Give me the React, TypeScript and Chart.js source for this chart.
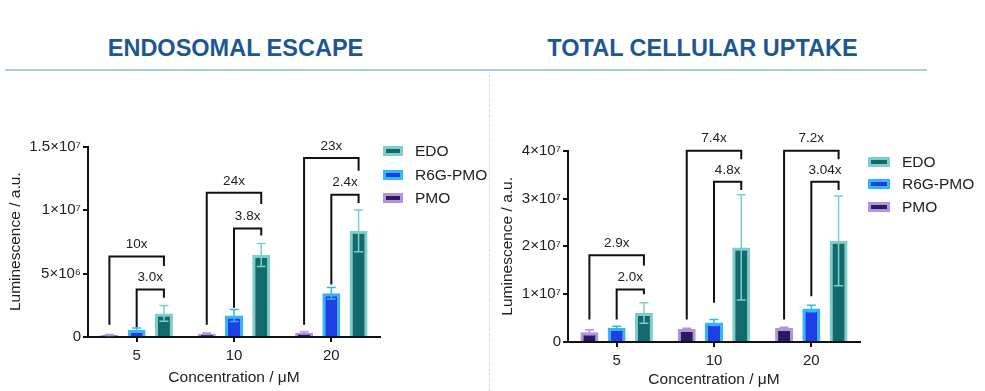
import React, { useEffect, useRef } from "react";
import { Chart, registerables } from "chart.js";

Chart.register(...registerables);

const FONT = "'Liberation Sans', Arial, Helvetica, sans-serif";
Chart.defaults.font.family = FONT;

// ---------- shared ----------
const concentrations = ["5", "10", "20"];
const seriesNames = ["PMO", "R6G-PMO", "EDO"];
const fillColors = ["#2b1a5c", "#1c3fe6", "#136a6d"];
const edgeColors = ["#b393dd", "#35b6f5", "#7fcdcd"];
const legendOrder = [2, 1, 0];

// ---------- endosomal escape ----------
const escapePMO = [1.5e5, 2.5e5, 3.3e5];
const escapePMOErr = [0.4e5, 0.6e5, 0.8e5];
const escapeR6G = [5.8e5, 1.69e6, 3.45e6];
const escapeR6GErr = [1.2e5, 4.7e5, 4.5e5];
const escapeEDO = [1.86e6, 6.46e6, 8.36e6];
const escapeEDOErr = [6.2e5, 9.0e5, 1.64e6];
const escapeTickLabels = ["0", "5×10⁶", "1×10⁷", "1.5×10⁷"];
const escapeNearLabels = ["3.0x", "3.8x", "2.4x"];
const escapeNearTop = [3.75e6, 8.55e6, 1.12e7];
const escapeNearLeftEnd = [7.6e5, 2.3e6, 4.14e6];
const escapeNearRightEnd = [3.1e6, 8.0e6, 1.055e7];
const escapeFarLabels = ["10x", "24x", "23x"];
const escapeFarTop = [6.33e6, 1.135e7, 1.41e7];
const escapeFarLeftEnd = [9.7e5, 9.7e5, 9.7e5];
const escapeFarRightEnd = [5.6e6, 1.048e7, 1.31e7];

// ---------- total cellular uptake ----------
const uptakePMO = [2.05e6, 2.7e6, 2.95e6];
const uptakePMOErr = [5e5, 2e5, 1.5e5];
const uptakeR6G = [3.0e6, 4.06e6, 7.0e6];
const uptakeR6GErr = [3e5, 6.3e5, 7e5];
const uptakeEDO = [6.07e6, 1.977e7, 2.115e7];
const uptakeEDOErr = [2.15e6, 1.1e7, 9.4e6];
const uptakeTickLabels = ["0", "1×10⁷", "2×10⁷", "3×10⁷", "4×10⁷"];
const uptakeNearLabels = ["2.0x", "4.8x", "3.04x"];
const uptakeNearTop = [1.097e7, 3.35e7, 3.35e7];
const uptakeNearLeftEnd = [4.69e6, 8.2e6, 9.57e6];
const uptakeNearRightEnd = [1.0e7, 3.18e7, 3.18e7];
const uptakeFarLabels = ["2.9x", "7.4x", "7.2x"];
const uptakeFarTop = [1.816e7, 4.0e7, 4.0e7];
const uptakeFarLeftEnd = [4.69e6, 4.69e6, 4.69e6];
const uptakeFarRightEnd = [1.6e7, 3.82e7, 3.82e7];

type Bracket = {
  from: number;
  to: number;
  labels: string[];
  tops: number[];
  leftEnds: number[];
  rightEnds: number[];
};

function makeErrorBarPlugin(errs: number[][]) {
  return {
    id: "errorBars",
    afterDatasetsDraw(chart: any) {
      const ctx = chart.ctx;
      const y = chart.scales.y;
      chart.data.datasets.forEach((ds: any, i: number) => {
        const meta = chart.getDatasetMeta(i);
        meta.data.forEach((bar: any, j: number) => {
          const v = ds.data[j];
          const e = errs[i][j];
          const yHi = y.getPixelForValue(v + e);
          const yLo = y.getPixelForValue(Math.max(0, v - e));
          const x = bar.x;
          const half = 4.5;
          ctx.save();
          ctx.strokeStyle = ds.borderColor;
          ctx.lineWidth = 1.5;
          ctx.beginPath();
          ctx.moveTo(x, yLo);
          ctx.lineTo(x, yHi);
          ctx.moveTo(x - half, yHi);
          ctx.lineTo(x + half, yHi);
          ctx.moveTo(x - half, yLo);
          ctx.lineTo(x + half, yLo);
          ctx.stroke();
          ctx.restore();
        });
      });
    },
  };
}

function makeBracketPlugin(groups: Bracket[]) {
  return {
    id: "brackets",
    afterDatasetsDraw(chart: any) {
      const ctx = chart.ctx;
      const y = chart.scales.y;
      groups.forEach((g) => {
        g.labels.forEach((lab, j) => {
          const xL = chart.getDatasetMeta(g.from).data[j].x;
          const xR = chart.getDatasetMeta(g.to).data[j].x;
          const yT = y.getPixelForValue(g.tops[j]);
          const yL = y.getPixelForValue(g.leftEnds[j]);
          const yR = y.getPixelForValue(g.rightEnds[j]);
          ctx.save();
          ctx.strokeStyle = "#111";
          ctx.lineWidth = 2;
          ctx.lineJoin = "miter";
          ctx.beginPath();
          ctx.moveTo(xL, yL);
          ctx.lineTo(xL, yT);
          ctx.lineTo(xR, yT);
          ctx.lineTo(xR, yR);
          ctx.stroke();
          ctx.fillStyle = "#222";
          ctx.font = `13.5px ${FONT}`;
          ctx.textAlign = "center";
          ctx.textBaseline = "middle";
          ctx.fillText(lab, (xL + xR) / 2, yT - 12);
          ctx.restore();
        });
      });
    },
  };
}

type PanelProps = {
  left: number;
  top: number;
  width: number;
  height: number;
  padTop: number;
  padRight: number;
  yWidth: number;
  xHeight: number;
  yMax: number;
  yStep: number;
  tickLabels: string[];
  values: number[][];
  errors: number[][];
  brackets: Bracket[];
  yTitlePad: number;
  xTitlePad: number;
  tickPad: number;
};

function BarPanel(p: PanelProps) {
  const ref = useRef<HTMLCanvasElement | null>(null);
  useEffect(() => {
    if (!ref.current) return;
    const chart = new Chart(ref.current, {
      type: "bar",
      data: {
        labels: concentrations,
        datasets: seriesNames.map((name, i) => ({
          label: name,
          data: p.values[i],
          backgroundColor: fillColors[i],
          borderColor: edgeColors[i],
          borderWidth: 3,
          borderSkipped: "start",
          categoryPercentage: 0.84,
          barPercentage: 0.66,
        })),
      },
      options: {
        responsive: false,
        animation: false,
        layout: { padding: { top: p.padTop, right: p.padRight, bottom: 0, left: 0 } },
        plugins: {
          legend: { display: false },
          tooltip: { enabled: false },
        },
        scales: {
          x: {
            grid: {
              offset: false,
              drawOnChartArea: false,
              drawTicks: true,
              tickLength: 5,
              color: "#111",
              lineWidth: 2,
            },
            border: { display: true, color: "#111", width: 2 },
            ticks: { font: { size: 15 }, color: "#222", padding: p.tickPad },
            title: {
              display: true,
              text: "Concentration / μM",
              font: { size: 15.5 },
              color: "#222",
              padding: { top: 0, bottom: p.xTitlePad },
            },
            afterFit: (s: any) => {
              s.height = p.xHeight;
            },
          },
          y: {
            min: 0,
            max: p.yMax,
            ticks: {
              stepSize: p.yStep,
              font: { size: 15 },
              color: "#222",
              padding: 2,
              callback: (_v: any, i: number) => p.tickLabels[i],
            },
            grid: {
              drawOnChartArea: false,
              drawTicks: true,
              tickLength: 5,
              color: "#111",
              lineWidth: 2,
            },
            border: { display: true, color: "#111", width: 2 },
            title: {
              display: true,
              text: "Luminescence / a.u.",
              font: { size: 15.5 },
              color: "#222",
              padding: { top: p.yTitlePad, bottom: 0 },
            },
            afterFit: (s: any) => {
              s.width = p.yWidth;
            },
          },
        },
      } as any,
      plugins: [makeErrorBarPlugin(p.errors), makeBracketPlugin(p.brackets)],
    });
    return () => chart.destroy();
  }, []);
  return (
    <canvas
      ref={ref}
      width={p.width}
      height={p.height}
      style={{
        position: "absolute",
        left: p.left,
        top: p.top,
        width: p.width,
        height: p.height,
        display: "block",
      }}
    />
  );
}

function Legend({ left, top, spacing, boxWidth, gap }: any) {
  return (
    <>
      {legendOrder.map((si, k) => (
        <div
          key={si}
          style={{
            position: "absolute",
            left,
            top: top + k * spacing - 9,
            height: 18,
            display: "flex",
            alignItems: "center",
            whiteSpace: "nowrap",
          }}
        >
          <div
            style={{
              width: boxWidth,
              height: 10,
              boxSizing: "border-box",
              border: `3px solid ${edgeColors[si]}`,
              background: fillColors[si],
            }}
          />
          <span style={{ marginLeft: gap, fontSize: 15.5, lineHeight: "18px", color: "#222" }}>
            {seriesNames[si]}
          </span>
        </div>
      ))}
    </>
  );
}

const titleStyle: React.CSSProperties = {
  position: "absolute",
  top: 37,
  width: 400,
  textAlign: "center",
  fontSize: 23.5,
  lineHeight: "23px",
  fontWeight: 700,
  color: "#1d5793",
  whiteSpace: "nowrap",
};

export default function App() {
  return (
    <div
      style={{
        position: "fixed",
        left: 0,
        top: 0,
        width: 985,
        height: 391,
        background: "#fff",
        overflow: "hidden",
        fontFamily: FONT,
      }}
    >
      <div style={{ ...titleStyle, left: 35.5 }}>ENDOSOMAL ESCAPE</div>
      <div style={{ ...titleStyle, left: 502.5 }}>TOTAL CELLULAR UPTAKE</div>
      <div
        style={{ position: "absolute", left: 5, top: 69, width: 922, height: 2, background: "#afc9df" }}
      />
      <div
        style={{
          position: "absolute",
          left: 489,
          top: 74,
          height: 317,
          width: 0,
          borderLeft: "1px dashed #d6d6d6",
        }}
      />
      <BarPanel
        left={0}
        top={120}
        width={480}
        height={271}
        padTop={26.5}
        padRight={100}
        yWidth={88}
        xHeight={54}
        yMax={1.5e7}
        yStep={5e6}
        tickLabels={escapeTickLabels}
        values={[escapePMO, escapeR6G, escapeEDO]}
        errors={[escapePMOErr, escapeR6GErr, escapeEDOErr]}
        brackets={[
          { from: 1, to: 2, labels: escapeNearLabels, tops: escapeNearTop, leftEnds: escapeNearLeftEnd, rightEnds: escapeNearRightEnd },
          { from: 0, to: 2, labels: escapeFarLabels, tops: escapeFarTop, leftEnds: escapeFarLeftEnd, rightEnds: escapeFarRightEnd },
        ]}
        yTitlePad={6}
        xTitlePad={4}
        tickPad={5}
      />
      <BarPanel
        left={490}
        top={120}
        width={480}
        height={271}
        padTop={30.7}
        padRight={110}
        yWidth={78}
        xHeight={49}
        yMax={4e7}
        yStep={1e7}
        tickLabels={uptakeTickLabels}
        values={[uptakePMO, uptakeR6G, uptakeEDO]}
        errors={[uptakePMOErr, uptakeR6GErr, uptakeEDOErr]}
        brackets={[
          { from: 1, to: 2, labels: uptakeNearLabels, tops: uptakeNearTop, leftEnds: uptakeNearLeftEnd, rightEnds: uptakeNearRightEnd },
          { from: 0, to: 2, labels: uptakeFarLabels, tops: uptakeFarTop, leftEnds: uptakeFarLeftEnd, rightEnds: uptakeFarRightEnd },
        ]}
        yTitlePad={8.7}
        xTitlePad={2}
        tickPad={5}
      />
      <Legend left={383} top={150.7} spacing={23.8} boxWidth={20} gap={12} />
      <Legend left={868} top={161.7} spacing={22.5} boxWidth={22} gap={12} />
    </div>
  );
}
